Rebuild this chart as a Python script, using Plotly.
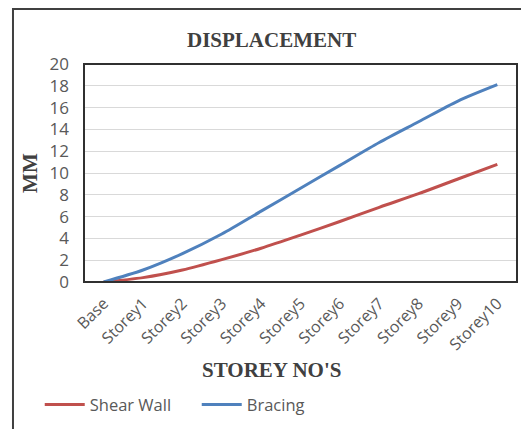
import plotly.graph_objects as go

storeys = ["Base", "Storey1", "Storey2", "Storey3", "Storey4", "Storey5",
           "Storey6", "Storey7", "Storey8", "Storey9", "Storey10"]
shear_wall = [0, 0.4, 1.1, 2.05, 3.1, 4.3, 5.55, 6.85, 8.1, 9.45, 10.8]
bracing = [0, 1.1, 2.6, 4.4, 6.5, 8.6, 10.7, 12.8, 14.7, 16.6, 18.1]

grey = "#595959"
serif = dict(family="Liberation Serif", size=21, color="#404040")

fig = go.Figure()
fig.add_trace(go.Scatter(x=storeys, y=shear_wall, name="Shear Wall", mode="lines",
                         line=dict(color="#C0504D", width=3, shape="spline", smoothing=0.8)))
fig.add_trace(go.Scatter(x=storeys, y=bracing, name="Bracing", mode="lines",
                         line=dict(color="#4F81BD", width=3, shape="spline", smoothing=0.8)))

fig.update_xaxes(range=[-0.5, 10.5], tickangle=-45,
                 tickfont=dict(family="Open Sans", size=16, color=grey),
                 showgrid=False, ticks="", showline=False, ticklabelstandoff=8)
fig.update_yaxes(range=[0, 20], dtick=2,
                 tickfont=dict(family="Open Sans", size=17, color=grey),
                 showgrid=True, gridcolor="#D9D9D9", gridwidth=1, zeroline=False,
                 ticks="", ticklabelstandoff=14)

# plot area frame and outer chart border
fig.add_shape(type="rect", xref="paper", yref="paper", x0=0, x1=1, y0=0, y1=1,
              line=dict(color="#303030", width=2))
fig.add_shape(type="rect", xref="paper", yref="paper", x0=-0.164, x1=1.1,
              y0=-0.8, y1=1.252, line=dict(color="#404040", width=2))

fig.add_annotation(text="<b>DISPLACEMENT</b>", xref="paper", yref="paper",
                   x=0.432, y=1.11, xanchor="center", yanchor="middle",
                   showarrow=False, font=serif)
fig.add_annotation(text="<b>MM</b>", xref="paper", yref="paper", x=-0.125, y=0.5,
                   xanchor="center", yanchor="middle", textangle=-90,
                   showarrow=False, font=serif)
fig.add_annotation(text="<b>STOREY NO'S</b>", xref="paper", yref="paper",
                   x=0.432, y=-0.405, xanchor="center", yanchor="middle",
                   showarrow=False, font=serif)

fig.update_layout(
    width=529, height=429,
    margin=dict(l=76, r=20, t=56, b=155, autoexpand=False),
    paper_bgcolor="white", plot_bgcolor="white",
    showlegend=True,
    legend=dict(orientation="h", xref="container", yref="container",
                x=0.06, y=0.075, xanchor="left", yanchor="middle",
                font=dict(family="Open Sans", size=16.5, color=grey),
                itemwidth=40, entrywidth=102, tracegroupgap=0),
)

fig.write_html("out.html")
